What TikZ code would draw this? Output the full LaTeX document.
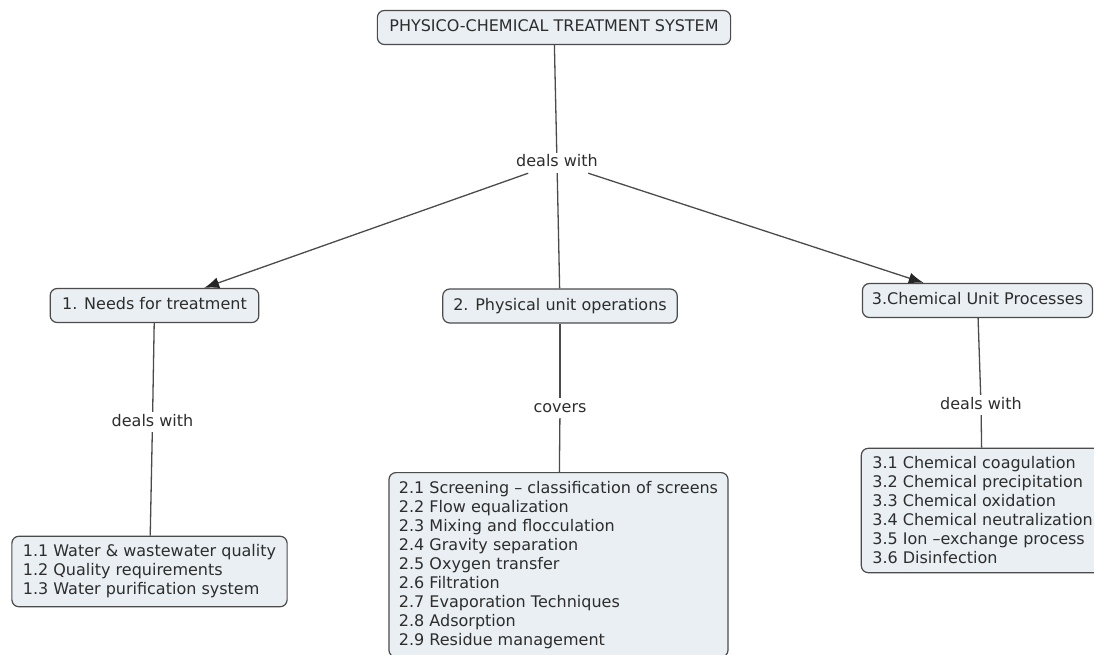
\documentclass[tikz,border=0pt]{standalone}
\usepackage{fontspec}
\setmainfont{DejaVu Sans}
\usepackage{tikz}
\usetikzlibrary{arrows.meta}

\definecolor{boxfill}{RGB}{233,239,243}
\definecolor{boxline}{RGB}{75,75,75}
\definecolor{txt}{RGB}{45,45,45}

\tikzset{
  concept/.style={draw=boxline, line width=1.2pt, fill=boxfill, rounded corners=7pt, text=txt,
    inner xsep=12pt, inner ysep=9.5pt, text height=11.5pt, text depth=3.5pt, font=\fontsize{16}{19}\selectfont},
  listbox/.style={draw=boxline, line width=1.2pt, fill=boxfill, rounded corners=7pt, text=txt,
    align=left, inner xsep=11pt, inner ysep=8.5pt, font=\fontsize{16}{19}\selectfont},
  linkword/.style={text=txt, inner sep=2.5pt, text height=11.5pt, text depth=3.5pt, font=\fontsize{16}{19}\selectfont},
  conn/.style={draw=boxline, line width=1.3pt},
  arr/.style={conn, -{Latex[length=15pt,width=11pt,color=black!85]}}
}

\begin{document}
\begin{tikzpicture}[x=1pt,y=1pt,yscale=-1,xscale=1]
              \useasboundingbox (0,0) rectangle (1094,655);
              %Concepts
              \node[concept] (top) at (554,27.5) {PHYSICO-CHEMICAL TREATMENT SYSTEM};
              \node[linkword] (dw) at (557,163) {deals with};
              \node[concept] (needs) at (154.5,305.5) {1. Needs for treatment};
              \node[concept,inner xsep=10.5pt] (phys) at (560,306) {2. Physical unit operations};
              \node[concept,inner xsep=9.5pt] (chem) at (977.5,300.5) {3.Chemical Unit Processes};
              \node[linkword] (dwneeds) at (152.5,422) {deals with};
              \node[linkword] (covers) at (560,408) {covers};
              \node[linkword] (dwchem) at (981,405) {deals with};
              %Lists
              \node[listbox] (needslist) at (149.5,571.5) {1.1 Water \& wastewater quality\\1.2 Quality requirements\\1.3 Water purification system};
              \node[listbox,anchor=north,inner xsep=10pt] (physlist) at (558.5,472) {2.1 Screening – classification of screens\\2.2 Flow equalization\\2.3 Mixing and flocculation\\2.4 Gravity separation\\2.5 Oxygen transfer\\2.6 Filtration\\2.7 Evaporation Techniques\\2.8 Adsorption\\2.9 Residue management};
              \node[listbox] (chemlist) at (982.5,510.5) {3.1 Chemical coagulation\\3.2 Chemical precipitation\\3.3 Chemical oxidation\\3.4 Chemical neutralization\\3.5 Ion –exchange process\\3.6 Disinfection};
              %Straight Lines
              \draw[conn] (top) -- (dw);
              \draw[arr] (dw) -- (needs);
              \draw[conn] (dw) -- (phys);
              \draw[arr] (dw) -- (chem);
              \draw[conn] (needs) -- (dwneeds);
              \draw[conn] (dwneeds) -- (needslist);
              \draw[conn] (phys) -- (covers);
              \draw[conn] (covers) -- (physlist);
              \draw[conn] (chem) -- (dwchem);
              \draw[conn] (dwchem) -- (chemlist);
            \end{tikzpicture}
\end{document}
